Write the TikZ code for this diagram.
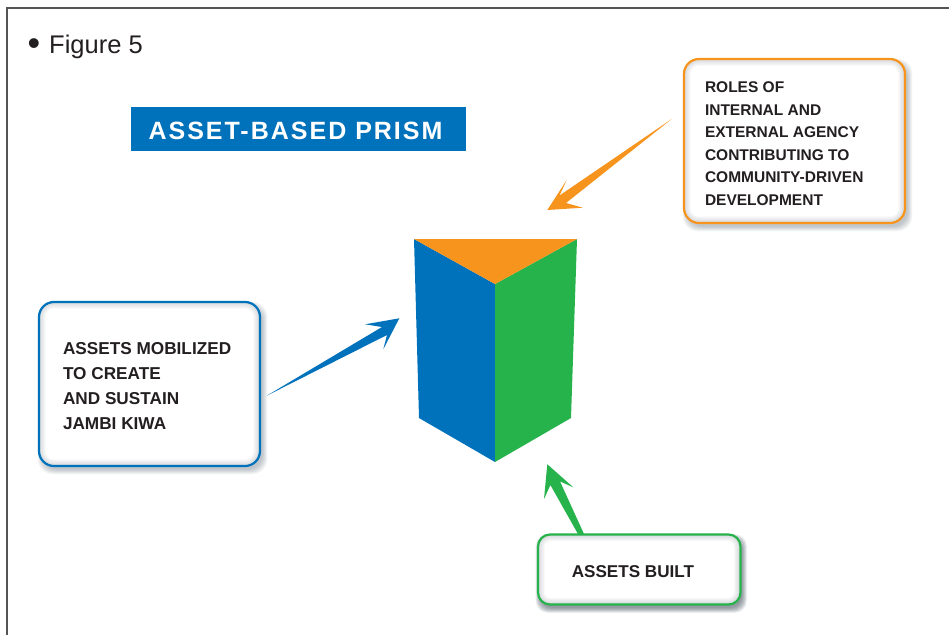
\documentclass[tikz,border=0pt]{standalone}
\usepackage{fontspec}
\setmainfont{Liberation Sans}
\newfontfamily\titlefont[LetterSpace=8]{Liberation Sans}
\definecolor{pblue}{HTML}{0072BC}
\definecolor{porange}{HTML}{F7941E}
\definecolor{pgreen}{HTML}{26B34B}
\definecolor{ink}{HTML}{231F20}
\definecolor{frameline}{HTML}{555555}
\definecolor{shadowgray}{HTML}{3A4A58}
\tikzset{
  framestroke/.style={draw=frameline,line width=1.5pt},
  face/.style={fill=#1,draw=none},
  pointer/.style={fill=#1,draw=none},
  callout/.style={rectangle,rounded corners=#1,line width=2.2pt,inner sep=0pt,text=ink,anchor=center},
}
% soft outer shadow, white fill and inner glow
\newcommand{\softbox}[8]{% l,t,r,b,radius,dx,dy,strength
  \foreach \k in {1,...,8}{
    \fill[shadowgray,opacity=#8,rounded corners=#5pt]
      ({#1+#6-5+\k*0.7},{#2+#7-5+\k*0.7}) rectangle
      ({#3+#6+5-\k*0.7},{#4+#7+5-\k*0.7});
  }
  \fill[white,rounded corners=#5pt] (#1,#2) rectangle (#3,#4);
  \begin{scope}
    \clip[rounded corners=#5pt] (#1,#2) rectangle (#3,#4);
    \foreach \k in {1,...,6}{
      \draw[shadowgray,opacity=0.035,line width=\k*2.2pt,rounded corners=#5pt]
        (#1,#2) rectangle (#3,#4);
    }
  \end{scope}
}
\newcommand{\boxlines}[5]{% width,size,leading,top space,lines
  \parbox{#1pt}{\vspace*{#4pt}\fontsize{#2pt}{#3pt}\selectfont\bfseries\raggedright #5}}
\begin{document}
\begin{tikzpicture}[x=1pt,y=-1pt]
\useasboundingbox (0,0) rectangle (949,635);
\fill[white] (0,0) rectangle (949,635);
% frame
\coordinate (fbl) at (7,635);
\coordinate (ftl) at (7,8);
\coordinate (ftr) at (949,8);
\draw[framestroke] (fbl) -- (ftl) -- (ftr);
% heading
\node[anchor=base west,inner sep=0pt,text=ink,font=\fontsize{25.5pt}{30pt}\selectfont] (fig) at (27.5,53) {{\fontsize{36pt}{36pt}\selectfont\raisebox{-2.5pt}{•}}\hspace{8.9pt}Figure 5};
\node[fill=pblue,text=white,minimum width=335pt,minimum height=44pt,inner sep=0pt,font=\titlefont\fontsize{25pt}{30pt}\selectfont\bfseries] (title) at (298.5,129) {\raisebox{-2pt}[\height][0pt]{ASSET-BASED PRISM}\kern6pt};
% prism
\coordinate (ptl) at (414,239);
\coordinate (ptr) at (577,239);
\coordinate (pmid) at (495,284);
\coordinate (pbot) at (495,462);
\coordinate (pbl) at (419,418);
\coordinate (pbr) at (571,418);
\fill[face=pblue] (ptl) -- (pmid) -- (pbot) -- (pbl) -- cycle;
\fill[face=pgreen] (ptr) -- (pmid) -- (pbot) -- (pbr) -- cycle;
\fill[face=porange] (ptl) -- (ptr) -- (pmid) -- cycle;
% callouts
\softbox{684}{59}{905}{223}{15}{3}{4}{0.045}
\node[callout=15pt,draw=porange,minimum width=221pt,minimum height=164pt] (roles) at (794.5,141)
  {\boxlines{179}{15.5}{22.6}{5.5}{ROLES OF\\INTERNAL AND\\EXTERNAL AGENCY\\CONTRIBUTING TO\\COMMUNITY-DRIVEN\\DEVELOPMENT}};
\softbox{39}{302}{260}{466}{15}{3}{4}{0.045}
\node[callout=15pt,draw=pblue,minimum width=221pt,minimum height=164pt] (mobil) at (149.5,384)
  {\boxlines{173}{17.2}{25}{4}{ASSETS MOBILIZED\\TO CREATE\\AND SUSTAIN\\JAMBI KIWA}};
\softbox{538}{534.5}{740.5}{604.5}{12}{2}{4}{0.09}
\node[callout=12pt,draw=pgreen,minimum width=202.5pt,minimum height=70pt] (built) at (639.25,569.5)
  {\boxlines{135}{17.1}{22}{4}{ASSETS BUILT}};
% arrows
\coordinate (oTail) at (671.7,119);
\coordinate (oTip) at (547.3,210);
\coordinate (oB1) at (566.7,180);
\coordinate (oN1) at (559.5,195.5);
\coordinate (oN2) at (566,203);
\coordinate (oB2) at (582.7,207.7);
\fill[pointer=porange] (oTail) -- (oN1) -- (oB1) -- (oTip) -- (oB2) -- (oN2) -- cycle;
\coordinate (bTail) at (266.7,395.7);
\coordinate (bTip) at (399.3,318.3);
\coordinate (bB1) at (365,324.3);
\coordinate (bN1) at (382,327);
\coordinate (bN2) at (387,335);
\coordinate (bB2) at (383.3,349.3);
\fill[pointer=pblue] (bTail) -- (bN1) -- (bB1) -- (bTip) -- (bB2) -- (bN2) -- cycle;
\coordinate (gT1) at (578,534);
\coordinate (gT2) at (584,534);
\coordinate (gTip) at (547.3,464.3);
\coordinate (gB1) at (573.3,487.3);
\coordinate (gN1) at (560,481.4);
\coordinate (gN2) at (550.4,485);
\coordinate (gB2) at (544,499);
\fill[pointer=pgreen] (gT2) -- (gN1) -- (gB1) -- (gTip) -- (gB2) -- (gN2) -- (gT1) -- cycle;
\end{tikzpicture}
\end{document}
